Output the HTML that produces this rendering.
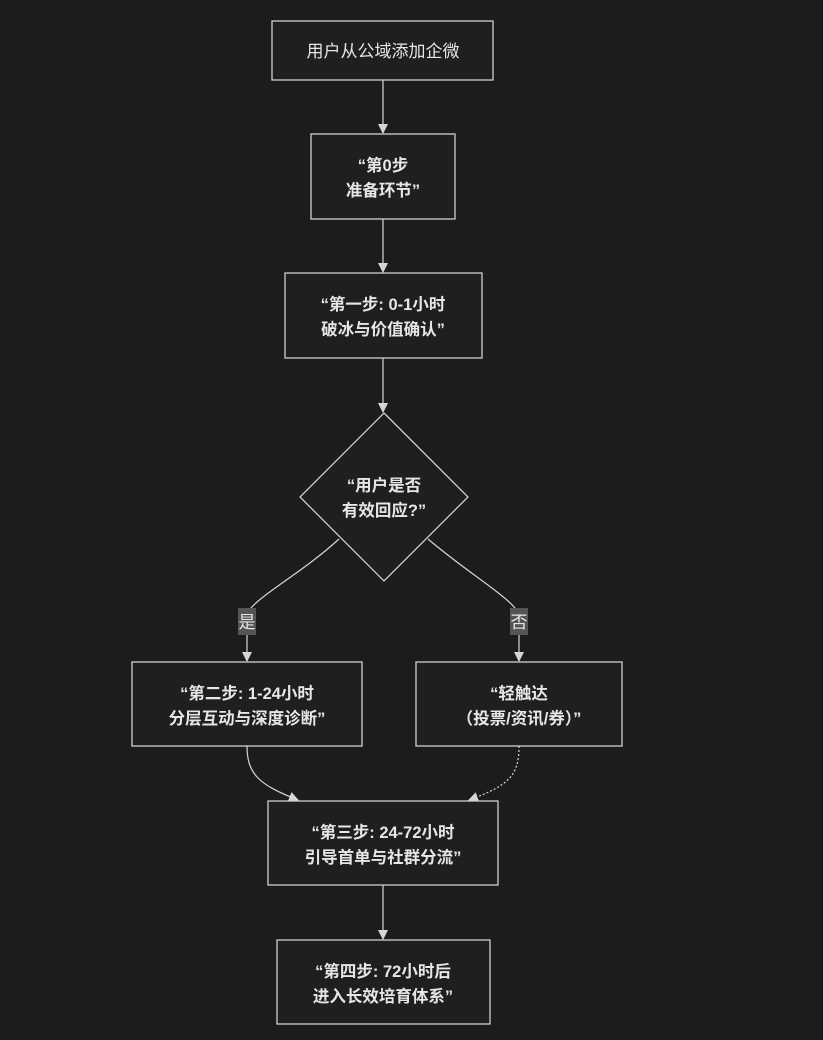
<!DOCTYPE html>
<html><head><meta charset="utf-8"><style>
html,body{margin:0;padding:0;background:#1c1c1e;}
svg{display:block}
text{font-family:"Liberation Sans","Noto Sans CJK SC",sans-serif;font-size:16.5px;fill:#e6e6e6;text-anchor:middle}
.b{font-weight:600}
rect.n,polygon.n{fill:#1f1f20;stroke:#cfcfcf;stroke-width:1.3}
path.e,line.e{stroke:#d6d6d6;stroke-width:1.2;fill:none}
</style></head><body>
<svg width="823" height="1040" viewBox="0 0 823 1040">
<defs><marker id="a" markerWidth="10" markerHeight="10" refX="9" refY="5" orient="auto" markerUnits="userSpaceOnUse"><path d="M0,0 L10,5 L0,10 z" fill="#d6d6d6"/></marker></defs>
<rect width="823" height="1040" fill="#1c1c1e"/>
<line class="e" x1="383" y1="80" x2="383" y2="133" marker-end="url(#a)"/>
<line class="e" x1="383" y1="219" x2="383" y2="272" marker-end="url(#a)"/>
<line class="e" x1="383" y1="358" x2="383" y2="412" marker-end="url(#a)"/>
<path class="e" d="M339,539 C300,575 250,600 247,615 L247,661" marker-end="url(#a)"/>
<path class="e" d="M428,539 C470,575 515,600 519,615 L519,661" marker-end="url(#a)"/>
<path class="e" d="M247,746 C247,775 260,785 298,800" marker-end="url(#a)"/>
<path class="e" d="M519,746 C519,775 510,785 469,800" stroke-dasharray="2,2" marker-end="url(#a)"/>
<line class="e" x1="383" y1="885" x2="383" y2="939" marker-end="url(#a)"/>
<rect class="n" x="272" y="21" width="221" height="59"/>
<text x="383" y="57" style="font-size:17px">用户从公域添加企微</text>
<rect class="n" x="311" y="134" width="144" height="85"/>
<text class="b" x="383" y="171">“第0步</text><text class="b" x="383" y="196">准备环节”</text>
<rect class="n" x="285" y="273" width="197" height="85"/>
<text class="b" x="383" y="310">“第一步: 0-1小时</text><text class="b" x="383" y="335">破冰与价值确认”</text>
<polygon class="n" points="384,413 468,497 384,581 300,497"/>
<text class="b" x="384" y="491">“用户是否</text><text class="b" x="384" y="516">有效回应?”</text>
<rect x="238" y="608" width="18" height="27" fill="#555"/><text x="247" y="628" style="font-size:17px">是</text>
<rect x="510" y="608" width="18" height="27" fill="#555"/><text x="519" y="628" style="font-size:17px">否</text>
<rect class="n" x="132" y="662" width="230" height="84"/>
<text class="b" x="247" y="699">“第二步: 1-24小时</text><text class="b" x="247" y="724">分层互动与深度诊断”</text>
<rect class="n" x="416" y="662" width="206" height="84"/>
<text class="b" x="519" y="699">“轻触达</text><text class="b" x="519" y="724">（投票/资讯/券）”</text>
<rect class="n" x="268" y="801" width="230" height="84"/>
<text class="b" x="383" y="838">“第三步: 24-72小时</text><text class="b" x="383" y="863">引导首单与社群分流”</text>
<rect class="n" x="277" y="940" width="213" height="84"/>
<text class="b" x="383" y="977">“第四步: 72小时后</text><text class="b" x="383" y="1002">进入长效培育体系”</text>
</svg>
</body></html>
